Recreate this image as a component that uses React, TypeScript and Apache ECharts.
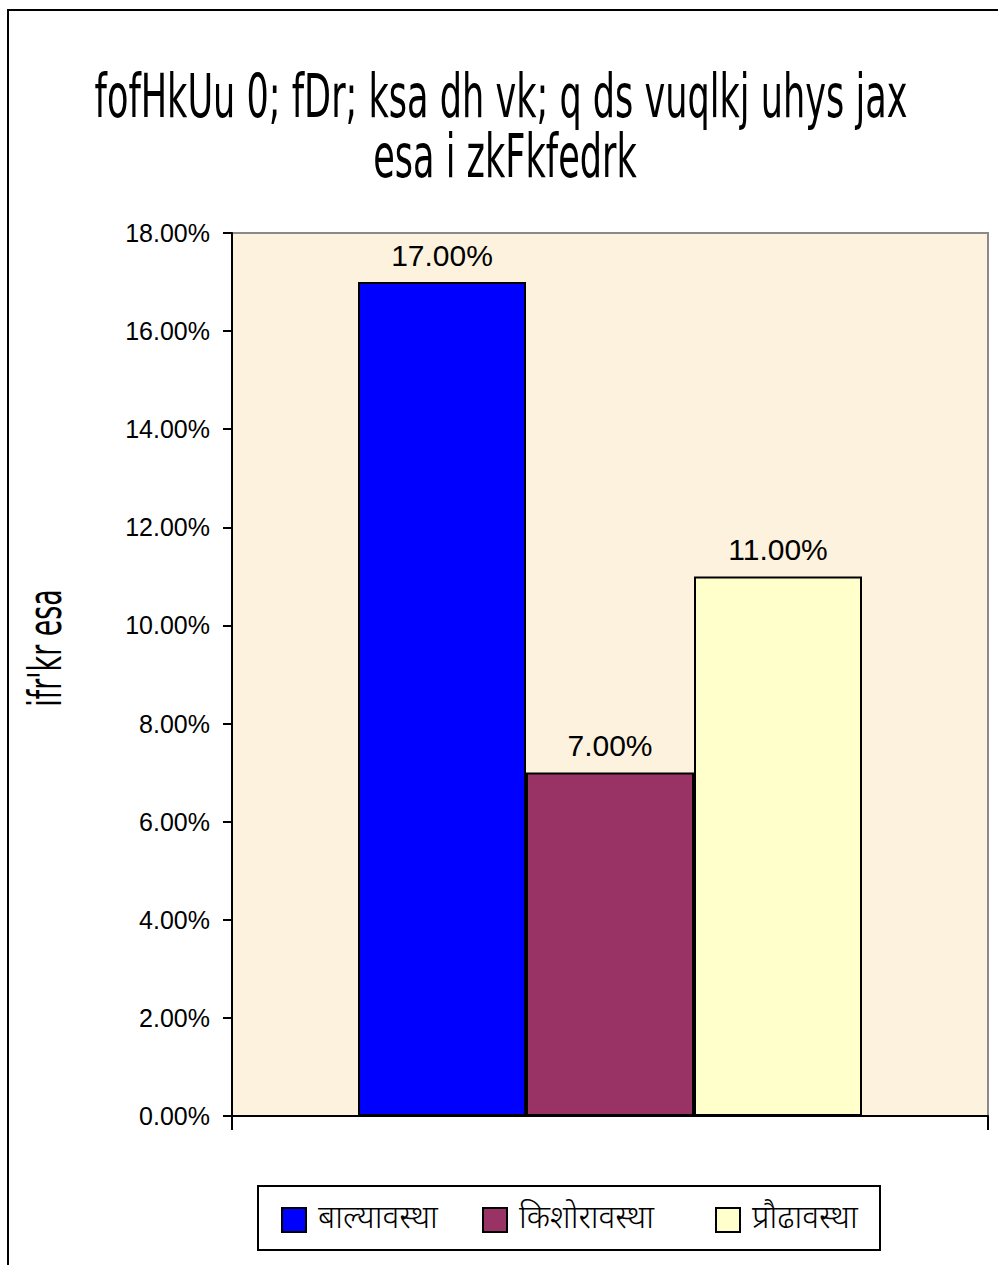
import React, { useEffect, useRef } from "react";
import * as echarts from "echarts";

const categories = [""];
const seriesNames = ["बाल्यावस्था", "किशोरावस्था", "प्रौढावस्था"];
const seriesValues = [0.17, 0.07, 0.11];
const seriesColors = ["#0000FF", "#993366", "#FFFFCC"];
const titleLines = ["fofHkUu 0; fDr; ksa dh vk; q ds vuqlkj uhys jax", "esa i zkFkfedrk"];
const yAxisName = "ifr'kr esa";
const yMin = 0;
const yMax = 0.18;
const yStep = 0.02;
const legendLefts = [281, 482, 715];

const pct = (v: number) => (v * 100).toFixed(2) + "%";

export default function App() {
  const ref = useRef<HTMLDivElement>(null);
  useEffect(() => {
    if (!ref.current) return;
    const chart = echarts.init(ref.current, undefined, { renderer: "svg" });
    const titleFont = "'DejaVu Sans Condensed', 'DejaVu Sans', sans-serif";
    const devFont = "'Noto Sans Devanagari', 'Lohit Devanagari', 'Noto Sans', sans-serif";
    const option: any = {
      animation: false,
      backgroundColor: "#ffffff",
      grid: {
        left: 232,
        top: 233,
        right: 10,
        bottom: 149,
        show: true,
        backgroundColor: "#FDF2DE",
        borderColor: "#8a8a8a",
        borderWidth: 2,
      },
      xAxis: {
        type: "category",
        data: categories,
        boundaryGap: true,
        axisLine: { show: true, lineStyle: { color: "#000", width: 2 } },
        axisTick: { show: true, length: 14, lineStyle: { color: "#000", width: 2 } },
        axisLabel: { show: false },
        splitLine: { show: false },
      },
      yAxis: {
        type: "value",
        min: yMin,
        max: yMax,
        interval: yStep,
        axisLine: { show: true, lineStyle: { color: "#000", width: 2 } },
        axisTick: { show: true, length: 9, lineStyle: { color: "#000", width: 2 } },
        splitLine: { show: false },
        axisLabel: {
          formatter: (v: number) => pct(v),
          fontSize: 25,
          fontFamily: "Arial, 'Liberation Sans', sans-serif",
          color: "#000",
          margin: 22,
        },
      },
      legend: seriesNames.map((name, i) => ({
        data: [name],
        left: legendLefts[i],
        top: 1204,
        padding: 0,
        itemWidth: 24,
        itemHeight: 24,
        icon: "rect",
        textStyle: {
          fontSize: 32,
          fontWeight: 300,
          fontFamily: devFont,
          color: "#000",
          padding: [0, 0, 0, 7],
        },
        selectedMode: false,
      })),
      series: seriesNames.map((name, i) => ({
        name,
        type: "bar",
        data: [seriesValues[i]],
        barWidth: 168,
        barGap: "0%",
        itemStyle: { color: seriesColors[i], borderColor: "#000", borderWidth: 2 },
        label: {
          show: true,
          position: "top",
          distance: 12,
          formatter: (p: any) => pct(p.value),
          fontSize: 30,
          fontFamily: "Arial, 'Liberation Sans', sans-serif",
          color: "#000",
        },
      })),
      graphic: [
        {
          type: "rect",
          shape: { x: 8, y: 10, width: 1200, height: 1400 },
          style: { fill: "none", stroke: "#000", lineWidth: 2 },
          silent: true,
        },
        {
          type: "rect",
          shape: { x: 258, y: 1186, width: 622, height: 64 },
          style: { fill: "none", stroke: "#000", lineWidth: 2 },
          silent: true,
        },
        {
          type: "text",
          x: 501,
          y: 96,
          scaleX: 0.65,
          style: {
            text: titleLines[0],
            fontSize: 60,
            fontFamily: titleFont,
            fill: "#000",
            textAlign: "center",
            textVerticalAlign: "middle",
          },
        },
        {
          type: "text",
          x: 505,
          y: 156,
          scaleX: 0.65,
          style: {
            text: titleLines[1],
            fontSize: 60,
            fontFamily: titleFont,
            fill: "#000",
            textAlign: "center",
            textVerticalAlign: "middle",
          },
        },
        {
          type: "text",
          x: 45,
          y: 648,
          rotation: Math.PI / 2,
          scaleX: 0.65,
          style: {
            text: yAxisName,
            fontSize: 46,
            fontFamily: titleFont,
            fill: "#000",
            textAlign: "center",
            textVerticalAlign: "middle",
          },
        },
      ],
    };
    chart.setOption(option);
    return () => chart.dispose();
  }, []);
  return (
    <div
      ref={ref}
      style={{ position: "absolute", left: 0, top: 0, width: 998, height: 1265 }}
    />
  );
}
